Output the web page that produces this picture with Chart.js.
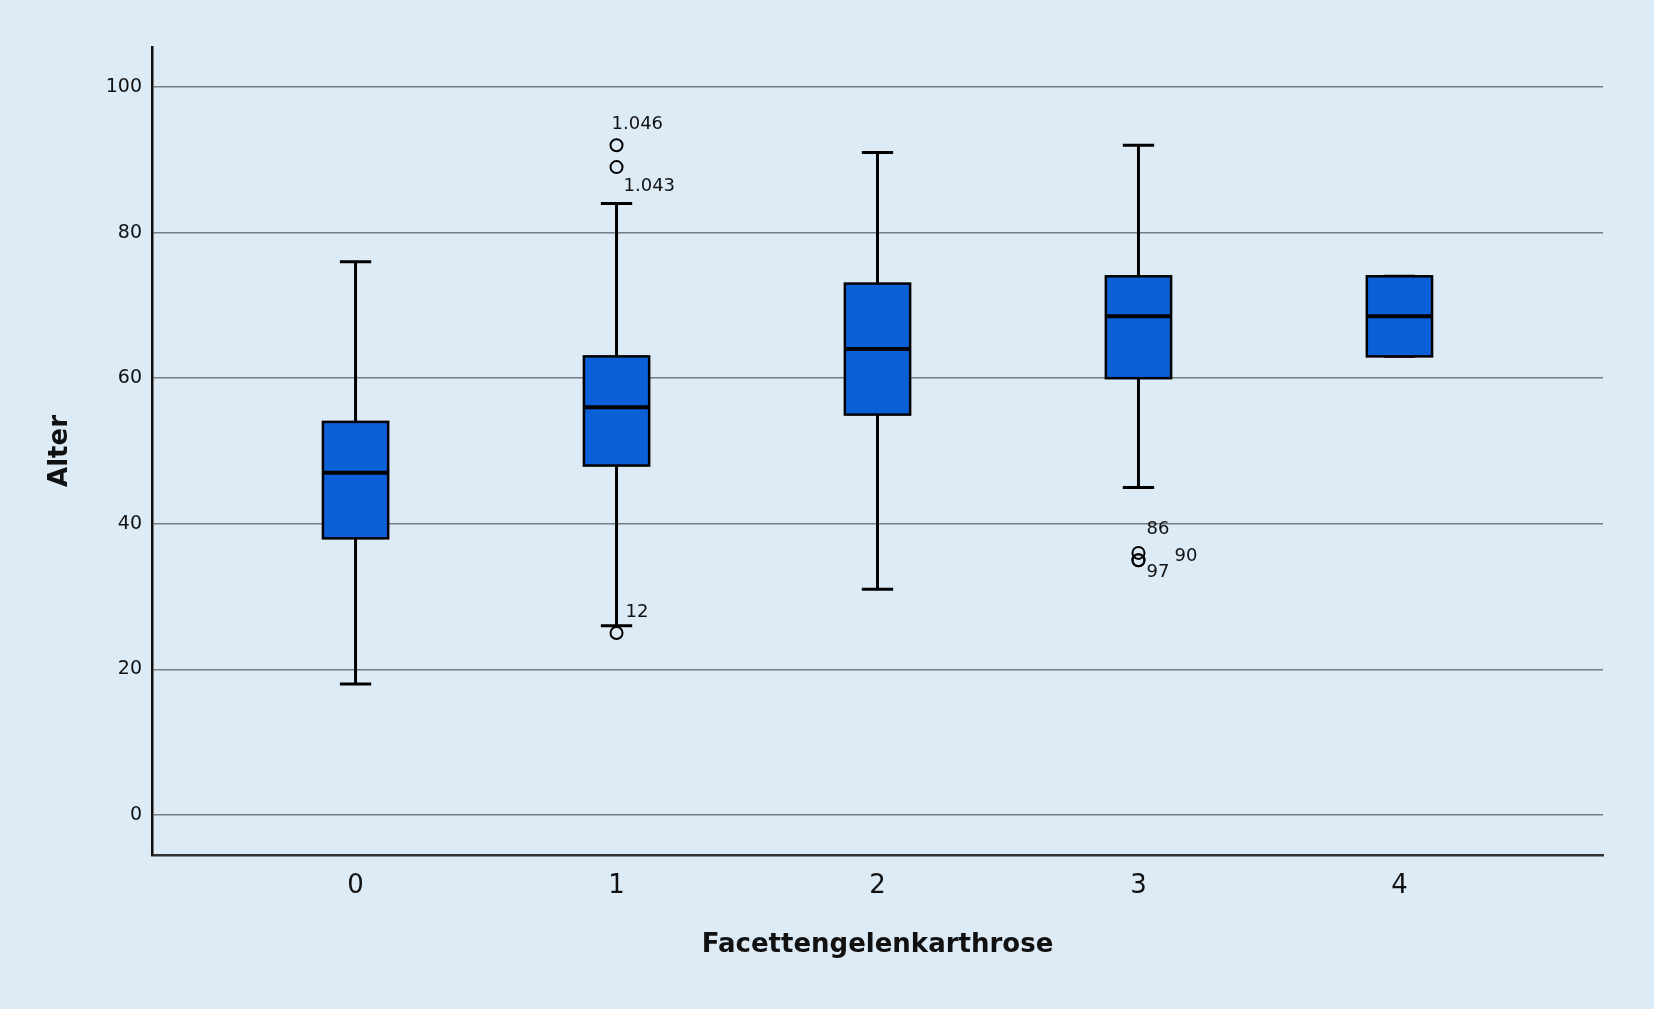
<!DOCTYPE html>
<html>
<head>
<meta charset="utf-8">
<script src="https://cdn.jsdelivr.net/npm/chart.js@4"></script>
<style>
  html, body { margin: 0; padding: 0; background: #ddebf7; }
  .chart-container { position: relative; width: 1654px; height: 1009px; }
</style>
</head>
<body>
<div class="chart-container"><canvas id="boxChart"></canvas></div>
<script>
// Dados do boxplot
const categories = [0, 1, 2, 3, 4];
const whiskerLow = [18, 26, 31, 45, 63];
const q1Values = [38, 48, 55, 60, 63];
const medianValues = [47, 56, 64, 68.5, 68.5];
const q3Values = [54, 63, 73, 74, 74];
const whiskerHigh = [76, 84, 91, 92, 74];

// Ausreißer
const outlierCategory = [1, 1, 1, 3, 3, 3];
const outlierValues = [92, 89, 25, 36, 35, 35];
const outlierLabels = ['1.046', '1.043', '12', '86', '90', '97'];

const yTicks = [0, 20, 40, 60, 80, 100];

// Verschiebung der Beschriftungen (Pixel)
const labelShift = {
    '1.046': [-5, -21],
    '1.043': [7, 19],
    '12': [9, -21],
    '86': [8, -24],
    '90': [36, -4],
    '97': [8, 12]
};

const boxColor = '#0b60d8';
const boxWidth = 0.25;
const capWidth = 0.12;

const background = {
    id: 'background',
    beforeDraw(chart) {
        const ctx = chart.ctx;
        ctx.save();
        ctx.fillStyle = '#ddebf7';
        ctx.fillRect(0, 0, chart.width, chart.height);
        ctx.restore();
    }
};

// Zeichnet Boxen, Whisker und Mediane über die Skalen
const boxes = {
    id: 'boxes',
    beforeDatasetsDraw(chart) {
        const ctx = chart.ctx;
        const x = chart.scales.x;
        const y = chart.scales.y;
        ctx.save();
        ctx.strokeStyle = '#000';
        ctx.lineCap = 'butt';
        categories.forEach((c, i) => {
            const cx = x.getPixelForValue(c);
            const capL = x.getPixelForValue(c - capWidth / 2);
            const capR = x.getPixelForValue(c + capWidth / 2);
            const bL = x.getPixelForValue(c - boxWidth / 2);
            const bR = x.getPixelForValue(c + boxWidth / 2);

            ctx.lineWidth = 3;
            ctx.beginPath();
            ctx.moveTo(cx, y.getPixelForValue(whiskerLow[i]));
            ctx.lineTo(cx, y.getPixelForValue(whiskerHigh[i]));
            ctx.moveTo(capL, y.getPixelForValue(whiskerLow[i]));
            ctx.lineTo(capR, y.getPixelForValue(whiskerLow[i]));
            ctx.moveTo(capL, y.getPixelForValue(whiskerHigh[i]));
            ctx.lineTo(capR, y.getPixelForValue(whiskerHigh[i]));
            ctx.stroke();

            const top = y.getPixelForValue(q3Values[i]);
            const bottom = y.getPixelForValue(q1Values[i]);
            ctx.fillStyle = boxColor;
            ctx.fillRect(bL, top, bR - bL, bottom - top);
            ctx.lineWidth = 2.5;
            ctx.strokeRect(bL, top, bR - bL, bottom - top);

            ctx.lineWidth = 4;
            ctx.beginPath();
            ctx.moveTo(bL, y.getPixelForValue(medianValues[i]));
            ctx.lineTo(bR, y.getPixelForValue(medianValues[i]));
            ctx.stroke();
        });
        ctx.restore();
    },
    afterDatasetsDraw(chart) {
        const ctx = chart.ctx;
        const x = chart.scales.x;
        const y = chart.scales.y;
        ctx.save();
        ctx.fillStyle = '#111';
        ctx.font = '18px "DejaVu Sans"';
        ctx.textAlign = 'left';
        ctx.textBaseline = 'middle';
        outlierLabels.forEach((lab, i) => {
            const s = labelShift[lab];
            ctx.fillText(lab,
                x.getPixelForValue(outlierCategory[i]) + s[0],
                y.getPixelForValue(outlierValues[i]) + s[1]);
        });
        ctx.restore();
    }
};

const config = {
    type: 'scatter',
    data: {
        datasets: [{
            data: outlierValues.map((v, i) => ({ x: outlierCategory[i], y: v })),
            pointStyle: 'circle',
            pointRadius: 6,
            pointBorderWidth: 2,
            borderColor: '#000',
            backgroundColor: 'rgba(0,0,0,0)'
        }]
    },
    options: {
        responsive: true,
        maintainAspectRatio: false,
        animation: false,
        layout: { padding: { top: 47, right: 51, left: 0, bottom: 0 } },
        plugins: {
            legend: { display: false },
            tooltip: { enabled: false }
        },
        scales: {
            x: {
                type: 'linear',
                min: -0.78,
                max: 4.78,
                afterBuildTicks: scale => { scale.ticks = categories.map(v => ({ value: v })); },
                afterFit: scale => { scale.height = 154; },
                grid: { display: false, drawTicks: false },
                border: { display: true, color: '#333', width: 2.5 },
                ticks: {
                    color: '#111',
                    padding: 16,
                    font: { family: 'DejaVu Sans', size: 26 }
                },
                title: {
                    display: true,
                    text: 'Facettengelenkarthrose',
                    color: '#111',
                    padding: { top: 0, bottom: 48 },
                    font: { family: 'DejaVu Sans', size: 26, weight: 'bold' }
                }
            },
            y: {
                min: -5.5,
                max: 105.5,
                afterBuildTicks: scale => { scale.ticks = yTicks.map(v => ({ value: v })); },
                afterFit: scale => { scale.width = 152; },
                grid: { color: '#777c82', lineWidth: 1.5, drawTicks: false },
                border: { display: true, color: '#111', width: 2.5 },
                ticks: {
                    color: '#111',
                    padding: 10,
                    font: { family: 'DejaVu Sans', size: 19 }
                },
                title: {
                    display: true,
                    text: 'Alter',
                    color: '#111',
                    padding: { top: 45, bottom: 0 },
                    font: { family: 'DejaVu Sans', size: 26, weight: 'bold' }
                }
            }
        }
    },
    plugins: [background, boxes]
};

const boxChart = new Chart(document.getElementById('boxChart'), config);
</script>
</body>
</html>
